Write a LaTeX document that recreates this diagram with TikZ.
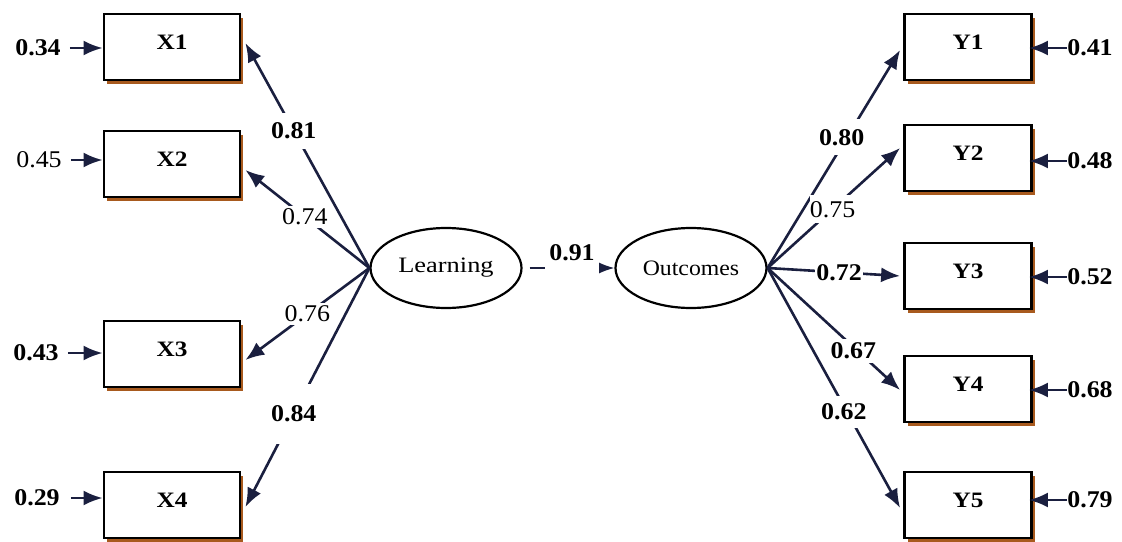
\documentclass[tikz,border=0pt]{standalone}
\usepackage{fontspec}
\setmainfont{Liberation Serif}
\usetikzlibrary{arrows.meta,shapes.geometric,shadows}
\definecolor{navy}{HTML}{1A1F3F}
\definecolor{shad}{HTML}{A85A1E}
\begin{document}
\begin{tikzpicture}[x=1pt,y=-1pt,
  obs/.style={draw=black, line width=2.8pt, fill=white, minimum height=66pt, inner sep=0pt,
    text depth=10pt, font=\fontsize{22}{24}\selectfont\bfseries,
    drop shadow={shadow xshift=3pt, shadow yshift=-3.5pt, fill=shad, opacity=1}},
  obsx/.style={obs, minimum width=136pt},
  obsy/.style={obs, minimum width=127pt},
  lat/.style={draw=black, line width=2.2pt, ellipse, minimum width=151pt, minimum height=80pt,
    inner sep=0pt, font=\fontsize{22}{24}\selectfont},
  num/.style={font=\fontsize{24}{26}\selectfont\bfseries, xscale=1.08, inner sep=0pt},
  numr/.style={font=\fontsize{24}{26}\selectfont, xscale=1.08, inner sep=0pt},
  cut/.style={fill=white, inner xsep=3pt, inner ysep=7pt},
  conn/.style={draw=navy, line width=2.6pt, -{Latex[length=19pt,width=15pt]}}]
\useasboundingbox (0,0) rectangle (1122,541);

% latent variables
\node[lat] (L) at (446,268) {\scalebox{1.2}[1]{Learning}};
\node[lat] (O) at (691,268) {\scalebox{1.08}[1]{Outcomes}};

% observed variables
\node[obsx] (X1) at (172,47)  {\scalebox{1.15}[1]{X1}};
\node[obsx] (X2) at (172,164) {\scalebox{1.15}[1]{X2}};
\node[obsx] (X3) at (172,354) {\scalebox{1.15}[1]{X3}};
\node[obsx] (X4) at (172,505) {\scalebox{1.15}[1]{X4}};
\node[obsy] (Y1) at (968,47)  {\scalebox{1.15}[1]{Y1}};
\node[obsy] (Y2) at (968,158) {\scalebox{1.15}[1]{Y2}};
\node[obsy] (Y3) at (968,276) {\scalebox{1.15}[1]{Y3}};
\node[obsy] (Y4) at (968,389) {\scalebox{1.15}[1]{Y4}};
\node[obsy] (Y5) at (968,505) {\scalebox{1.15}[1]{Y5}};

% loadings, Learning
\draw[conn] (L.west) -- node[pos=0.61, cut, num, inner ysep=10pt]{0.81} ([shift={(4,-4)}]X1.east);
\draw[conn] (L.west) -- node[pos=0.52, cut, numr, inner ysep=3pt]{0.74} ([shift={(4,6)}]X2.east);
\draw[conn] (L.west) -- node[pos=0.5, cut, numr, inner ysep=3pt]{0.76} ([shift={(4,6)}]X3.east);
\draw[conn] (L.west) -- node[pos=0.61, cut, num, inner ysep=22pt]{0.84} ([shift={(4,2)}]X4.east);

% structural path
\draw[conn] ([xshift=7pt]L.east) -- node[pos=0.5, num, fill=white, text depth=30pt, inner xsep=4pt, inner ysep=1pt]{0.91} (O.west);

% loadings, Outcomes
\draw[conn] (O.east) -- node[pos=0.6, cut, num, inner ysep=10pt, xshift=-5pt]{0.80} ([shift={(-3,3)}]Y1.west);
\draw[conn] (O.east) -- node[pos=0.49, cut, numr, inner ysep=6pt]{0.75} ([shift={(-3,-10)}]Y2.west);
\draw[conn] (O.east) -- node[pos=0.54, cut, num, inner ysep=2pt, inner xsep=1pt]{0.72} ([xshift=-3pt]Y3.west);
\draw[conn] (O.east) -- node[pos=0.68, cut, num, inner ysep=4pt, xshift=-4pt]{0.67} ([shift={(-3,1)}]Y4.west);
\draw[conn] (O.east) -- node[pos=0.6, cut, num, inner ysep=8pt, xshift=-3pt]{0.62} ([shift={(-3,3)}]Y5.west);

% error terms, left
\node[num]  (e1) at (38,48)  {0.34};
\node[numr] (e2) at (39,160) {0.45};
\node[num]  (e3) at (36,353) {0.43};
\node[num]  (e4) at (37,498) {0.29};
\draw[conn, shorten <=9pt] (e1.east) -- (e1.east -| X1.west);
\draw[conn, shorten <=9pt] (e2.east) -- (e2.east -| X2.west);
\draw[conn, shorten <=9pt] (e3.east) -- (e3.east -| X3.west);
\draw[conn, shorten <=11pt] (e4.east) -- (e4.east -| X4.west);

% error terms, right
\node[num] (f1) at (1090,48)  {0.41};
\node[num] (f2) at (1090,161) {0.48};
\node[num] (f3) at (1090,277) {0.52};
\node[num] (f4) at (1090,390) {0.68};
\node[num] (f5) at (1090,500) {0.79};
\draw[conn, shorten >=-4pt] (f1.west) -- (f1.west -| Y1.east);
\draw[conn, shorten >=-4pt] (f2.west) -- (f2.west -| Y2.east);
\draw[conn, shorten >=-4pt] (f3.west) -- (f3.west -| Y3.east);
\draw[conn, shorten >=-4pt] (f4.west) -- (f4.west -| Y4.east);
\draw[conn, shorten >=-4pt] (f5.west) -- (f5.west -| Y5.east);
\end{tikzpicture}
\end{document}
